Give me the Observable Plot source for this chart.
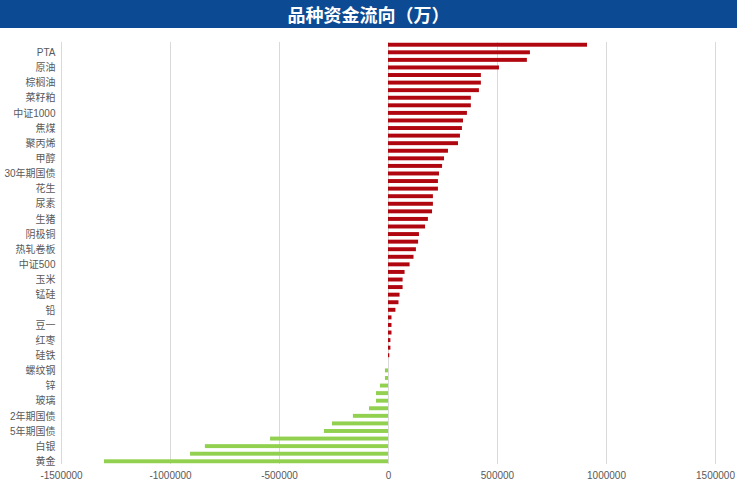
<!DOCTYPE html>
<html>
<head>
<meta charset="utf-8">
<script src="https://cdn.jsdelivr.net/npm/d3@7"></script>
<script src="https://cdn.jsdelivr.net/npm/@observablehq/plot@0.6"></script>
<style>
  body { margin: 0; background: #fff; }
  #title { height: 28px; background: #0c4a93; color: #fff; font: bold 18px "Noto Sans CJK SC", sans-serif;
           display: flex; align-items: center; justify-content: center; width: 737px; }
</style>
</head>
<body>
<div id="title">品种资金流向（万）</div>
<div id="chart"></div>
<script>
// Category names, top to bottom (every other one is labelled in the reference)
const categories = [
  "沪深300", "PTA", "纯碱", "原油", "豆粕", "棕榈油", "铁矿石", "菜籽粕",
  "10年期国债", "中证1000", "焦炭", "焦煤", "乙二醇", "聚丙烯", "苯乙烯", "甲醇",
  "豆油", "30年期国债", "菜籽油", "花生", "苹果", "尿素", "棉花", "生猪",
  "白糖", "阴极铜", "沥青", "热轧卷板", "燃料油", "中证500", "橡胶", "玉米",
  "鸡蛋", "锰硅", "不锈钢", "铅", "纸浆", "豆一", "工业硅", "红枣",
  "碳酸锂", "硅铁", "集运指数", "螺纹钢", "氧化铝", "锌", "沪铝", "玻璃",
  "沪镍", "2年期国债", "沪锡", "5年期国债", "上证50", "白银", "液化气", "黄金"
];
const values = [
  913000, 651000, 637000, 509000, 426000, 426000, 417000, 380000,
  380000, 362000, 344000, 339000, 330000, 321000, 275000, 257000,
  248000, 234000, 229000, 229000, 206000, 206000, 202000, 183000,
  170000, 142000, 138000, 128000, 117000, 99000, 76000, 67000,
  67000, 53000, 48000, 34000, 16000, 16000, 16000, 11000,
  11000, 6000, 0, -14000, -14000, -37000, -55000, -55000,
  -87000, -161000, -257000, -294000, -541000, -840000, -908000, -1303000
];
const shownLabels = [
  "PTA", "原油", "棕榈油", "菜籽粕", "中证1000", "焦煤", "聚丙烯", "甲醇",
  "30年期国债", "花生", "尿素", "生猪", "阴极铜", "热轧卷板", "中证500", "玉米",
  "锰硅", "铅", "豆一", "红枣", "硅铁", "螺纹钢", "锌", "玻璃",
  "2年期国债", "5年期国债", "白银", "黄金"
];
const xTicks = [-1500000, -1000000, -500000, 0, 500000, 1000000, 1500000];

const data = categories.map((name, i) => ({name, value: values[i]}));
const pos = data.filter(d => d.value >= 0);
const neg = data.filter(d => d.value < 0);

const chart = Plot.plot({
  width: 737,
  height: 454,
  marginLeft: 61,
  marginRight: 22,
  marginTop: 14,
  marginBottom: 18,
  style: {fontFamily: "'Liberation Sans', 'Noto Sans CJK SC', sans-serif", fontSize: "10px", color: "#595959", background: "#fff"},
  x: {domain: [-1500000, 1500000]},
  y: {domain: categories, paddingInner: 0.48, paddingOuter: 0.1},
  marks: [
    Plot.gridX(xTicks, {stroke: "#d9d9d9", strokeOpacity: 1}),
    Plot.barX(pos, {x: "value", y: "name", fill: "#b0060f"}),
    Plot.barX(neg, {x: "value", y: "name", fill: "#92d050"}),
    Plot.axisX(xTicks, {tickSize: 0, tickPadding: 7, tickFormat: d => String(d), label: null}),
    Plot.axisY(shownLabels, {tickSize: 0, tickPadding: 6, label: null})
  ]
});
document.getElementById("chart").appendChild(chart);
</script>
</body>
</html>
